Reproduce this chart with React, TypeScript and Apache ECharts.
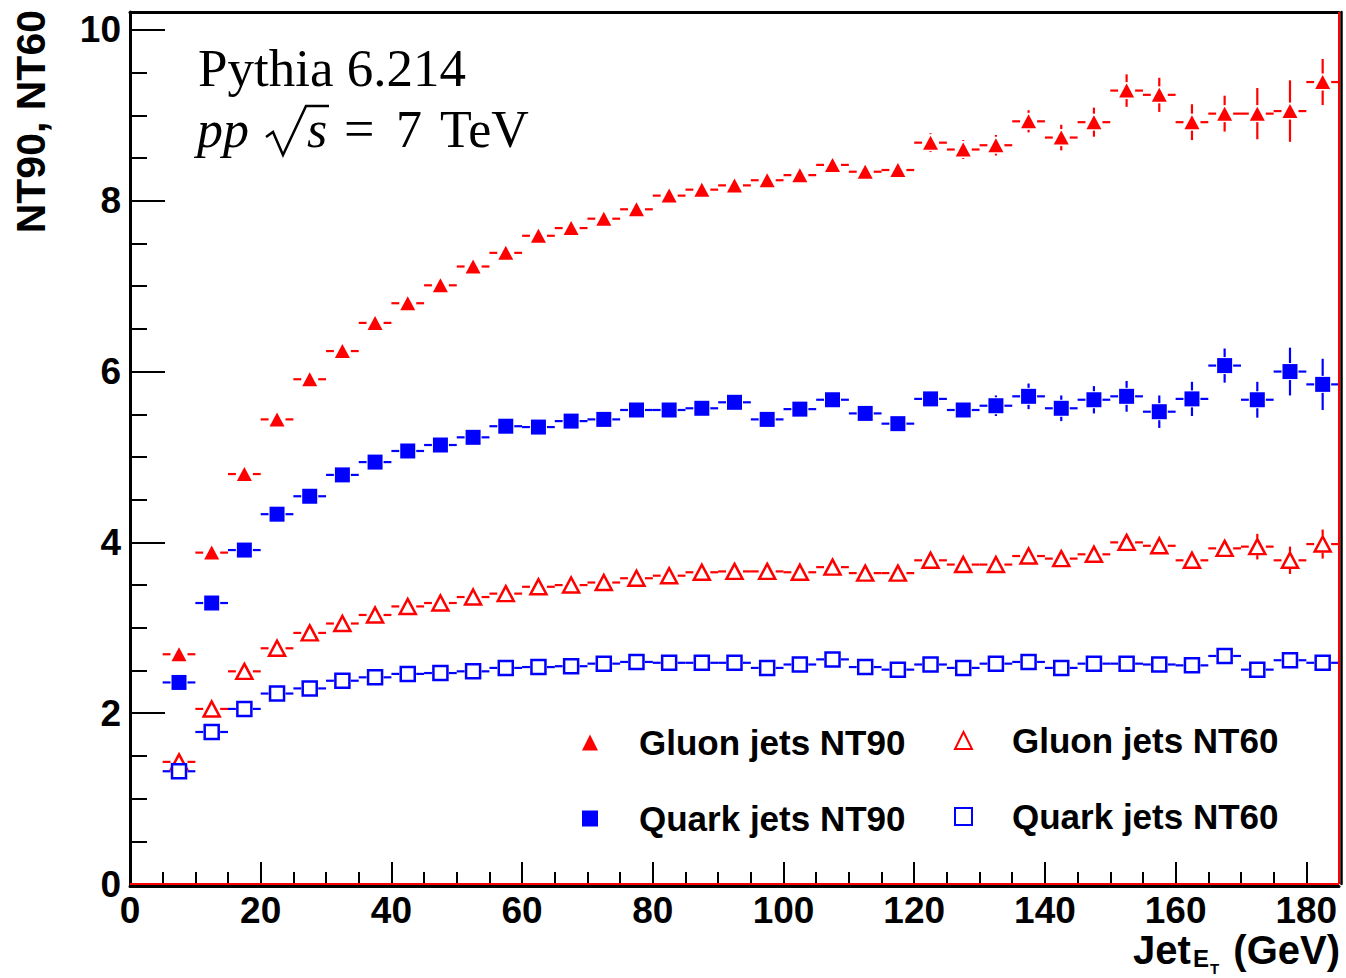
import React, { useEffect, useRef } from "react";
import * as echarts from "echarts";

// ---- data ----
const binCenters = [7.5, 12.5, 17.5, 22.5, 27.5, 32.5, 37.5, 42.5, 47.5, 52.5, 57.5, 62.5, 67.5, 72.5, 77.5, 82.5, 87.5, 92.5, 97.5, 102.5, 107.5, 112.5, 117.5, 122.5, 127.5, 132.5, 137.5, 142.5, 147.5, 152.5, 157.5, 162.5, 167.5, 172.5, 177.5, 182.5];
const binHalfWidth = 2.5;

const gluonNT90 = [2.69, 3.88, 4.80, 5.44, 5.91, 6.24, 6.57, 6.80, 7.01, 7.23, 7.39, 7.59, 7.68, 7.79, 7.90, 8.06, 8.13, 8.18, 8.24, 8.30, 8.42, 8.34, 8.36, 8.68, 8.60, 8.65, 8.93, 8.74, 8.92, 9.29, 9.24, 8.92, 9.02, 9.02, 9.05, 9.39];
const gluonNT90Err = [0.03, 0.03, 0.03, 0.03, 0.03, 0.04, 0.04, 0.04, 0.04, 0.04, 0.05, 0.05, 0.05, 0.05, 0.06, 0.06, 0.06, 0.06, 0.07, 0.07, 0.07, 0.08, 0.08, 0.11, 0.11, 0.12, 0.13, 0.15, 0.17, 0.19, 0.20, 0.21, 0.21, 0.30, 0.36, 0.27];

const quarkNT90 = [2.36, 3.29, 3.91, 4.33, 4.54, 4.79, 4.94, 5.07, 5.14, 5.23, 5.36, 5.35, 5.42, 5.44, 5.55, 5.55, 5.57, 5.64, 5.44, 5.56, 5.67, 5.51, 5.39, 5.68, 5.55, 5.60, 5.71, 5.57, 5.67, 5.71, 5.53, 5.68, 6.07, 5.67, 6.00, 5.85];
const quarkNT90Err = [0.02, 0.02, 0.02, 0.03, 0.03, 0.03, 0.03, 0.04, 0.04, 0.04, 0.04, 0.05, 0.05, 0.05, 0.05, 0.06, 0.06, 0.06, 0.06, 0.07, 0.07, 0.07, 0.08, 0.09, 0.10, 0.12, 0.15, 0.15, 0.16, 0.18, 0.19, 0.20, 0.20, 0.21, 0.28, 0.30];

const gluonNT60 = [1.43, 2.05, 2.49, 2.76, 2.94, 3.05, 3.15, 3.25, 3.29, 3.36, 3.40, 3.48, 3.50, 3.53, 3.58, 3.61, 3.65, 3.66, 3.66, 3.65, 3.71, 3.64, 3.64, 3.79, 3.74, 3.74, 3.84, 3.81, 3.86, 4.00, 3.96, 3.79, 3.93, 3.95, 3.79, 3.98];
const gluonNT60Err = [0.02, 0.02, 0.02, 0.02, 0.02, 0.02, 0.02, 0.02, 0.02, 0.03, 0.03, 0.03, 0.03, 0.03, 0.03, 0.03, 0.04, 0.04, 0.04, 0.04, 0.04, 0.05, 0.05, 0.05, 0.05, 0.06, 0.06, 0.06, 0.07, 0.08, 0.09, 0.09, 0.10, 0.15, 0.16, 0.17];

const quarkNT60 = [1.32, 1.78, 2.05, 2.23, 2.29, 2.38, 2.42, 2.46, 2.47, 2.49, 2.53, 2.54, 2.55, 2.58, 2.60, 2.59, 2.59, 2.59, 2.53, 2.57, 2.63, 2.54, 2.51, 2.57, 2.53, 2.58, 2.60, 2.53, 2.58, 2.58, 2.57, 2.56, 2.67, 2.51, 2.62, 2.59];
const quarkNT60Err = [0.01, 0.01, 0.01, 0.01, 0.01, 0.01, 0.01, 0.01, 0.01, 0.02, 0.02, 0.02, 0.02, 0.02, 0.02, 0.02, 0.02, 0.02, 0.03, 0.03, 0.03, 0.03, 0.03, 0.03, 0.03, 0.04, 0.04, 0.04, 0.04, 0.05, 0.05, 0.05, 0.06, 0.08, 0.09, 0.10];

const xMajorTicks = [0, 20, 40, 60, 80, 100, 120, 140, 160, 180];
const xMinorTicks = [5, 10, 15, 25, 30, 35, 45, 50, 55, 65, 70, 75, 85, 90, 95, 105, 110, 115, 125, 130, 135, 145, 150, 155, 165, 170, 175];
const yMajorTicks = [0, 2, 4, 6, 8, 10];
const yMinorTicks = [0.5, 1, 1.5, 2.5, 3, 3.5, 4.5, 5, 5.5, 6.5, 7, 7.5, 8.5, 9, 9.5];
const xMin = 0, xMax = 185, yMin = 0, yMax = 10.21;

const RED = "#ff0000";
const BLUE = "#0000ff";
const SANS = '"Liberation Sans", Arial, Helvetica, sans-serif';
const SERIF = '"Liberation Serif", "Times New Roman", serif';

function makeErr(name: string, ys: number[], errs: number[], color: string) {
  return {
    type: "custom",
    name: name,
    silent: true,
    z: 3,
    data: binCenters.map((x, i) => [x, ys[i], errs[i]]),
    renderItem: (params: any, api: any) => {
      const x = api.value(0), y = api.value(1), e = api.value(2);
      const c = api.coord([x, y]);
      const l = api.coord([x - binHalfWidth, y]);
      const r = api.coord([x + binHalfWidth, y]);
      const t = api.coord([x, y + e]);
      const b = api.coord([x, y - e]);
      const g = 8.5;
      const style = { stroke: color, lineWidth: 2.2 };
      const ch: any[] = [];
      if (c[0] - g > l[0]) ch.push({ type: "line", shape: { x1: l[0], y1: c[1], x2: c[0] - g, y2: c[1] }, style });
      if (r[0] > c[0] + g) ch.push({ type: "line", shape: { x1: c[0] + g, y1: c[1], x2: r[0], y2: c[1] }, style });
      if (c[1] - g > t[1]) ch.push({ type: "line", shape: { x1: c[0], y1: t[1], x2: c[0], y2: c[1] - g }, style });
      if (b[1] > c[1] + g) ch.push({ type: "line", shape: { x1: c[0], y1: c[1] + g, x2: c[0], y2: b[1] }, style });
      return { type: "group", children: ch };
    },
  };
}

function makeScatter(name: string, ys: number[], symbol: string, size: number | number[], itemStyle: any, extra: any = {}) {
  return {
    type: "scatter",
    name: name,
    symbol: symbol,
    symbolSize: size,
    itemStyle: { opacity: 1, ...itemStyle },
    emphasis: { disabled: true },
    z: 4,
    data: binCenters.map((x, i) => [x, ys[i]]),
    ...extra,
  };
}

export default function App() {
  const ref = useRef<HTMLDivElement>(null);
  useEffect(() => {
    if (!ref.current) return;
    const chart = echarts.init(ref.current, null, { renderer: "svg" });
    const axisLabelStyle = { fontSize: 37, fontWeight: "bold", color: "#000", fontFamily: SANS };
    const legendText = { fontSize: 35, fontWeight: "bold", color: "#000", fontFamily: SANS };
    const option: any = {
      animation: false,
      backgroundColor: "#fff",
      grid: { left: 130, right: 7, top: 12, bottom: 94, containLabel: false },
      xAxis: [
        {
          type: "value", min: xMin, max: xMax, position: "bottom", offset: 2,
          axisLine: { show: true, onZero: false, lineStyle: { color: "#000", width: 3 } },
          axisTick: { show: true, inside: true, length: 24, customValues: xMajorTicks, lineStyle: { color: "#000", width: 2 } },
          axisLabel: { show: true, customValues: xMajorTicks, margin: 9, lineHeight: 30, ...axisLabelStyle },
          splitLine: { show: false },
        },
        {
          type: "value", min: xMin, max: xMax, position: "bottom", offset: 2,
          axisLine: { show: false },
          axisTick: { show: true, inside: true, length: 12, customValues: xMinorTicks, lineStyle: { color: "#000", width: 2 } },
          axisLabel: { show: false },
          splitLine: { show: false },
        },
        {
          type: "value", min: xMin, max: xMax, position: "top",
          axisLine: { show: true, onZero: false, lineStyle: { color: "#000", width: 3 } },
          axisTick: { show: false }, axisLabel: { show: false }, splitLine: { show: false },
        },
      ],
      yAxis: [
        {
          type: "value", min: yMin, max: yMax, position: "left",
          axisLine: { show: true, onZero: false, lineStyle: { color: "#000", width: 3 } },
          axisTick: { show: true, inside: true, length: 35, customValues: yMajorTicks, lineStyle: { color: "#000", width: 2 } },
          axisLabel: { show: true, customValues: yMajorTicks, margin: 9, ...axisLabelStyle },
          splitLine: { show: false },
        },
        {
          type: "value", min: yMin, max: yMax, position: "left",
          axisLine: { show: false },
          axisTick: { show: true, inside: true, length: 17, customValues: yMinorTicks, lineStyle: { color: "#000", width: 2 } },
          axisLabel: { show: false }, splitLine: { show: false },
        },
        {
          type: "value", min: yMin, max: yMax, position: "right", offset: 2,
          axisLine: { show: true, onZero: false, lineStyle: { color: "#000", width: 2.5 } },
          axisTick: { show: false }, axisLabel: { show: false }, splitLine: { show: false },
        },
      ],
      legend: [
        {
          data: ["Gluon jets NT90", "Quark jets NT90"],
          orient: "vertical", left: 577, top: 720, itemGap: 41,
          itemWidth: 16, itemHeight: 16,
          textStyle: { ...legendText, padding: [0, 0, 0, 36] },
          selectedMode: false,
        },
        {
          data: ["Gluon jets NT60", "Quark jets NT60"],
          orient: "vertical", left: 949, top: 718, itemGap: 41,
          itemWidth: 17, itemHeight: 17,
          textStyle: { ...legendText, padding: [0, 0, 0, 35] },
          selectedMode: false,
        },
      ],
      series: [
        makeErr("Gluon jets NT90 err", gluonNT90, gluonNT90Err, RED),
        makeErr("Quark jets NT90 err", quarkNT90, quarkNT90Err, BLUE),
        makeErr("Gluon jets NT60 err", gluonNT60, gluonNT60Err, RED),
        makeErr("Quark jets NT60 err", quarkNT60, quarkNT60Err, BLUE),
        makeScatter("Gluon jets NT90", gluonNT90, "triangle", [15, 14], { color: RED }, {
          markLine: {
            silent: true, symbol: "none", label: { show: false },
            lineStyle: { color: RED, width: 2, type: "solid" },
            data: [{ xAxis: xMax }, { yAxis: 0 }],
          },
        }),
        makeScatter("Quark jets NT90", quarkNT90, "rect", [15, 15], { color: BLUE }),
        makeScatter("Gluon jets NT60", gluonNT60, "triangle", [16, 15], { color: "#fff", borderColor: RED, borderWidth: 2.5 }),
        makeScatter("Quark jets NT60", quarkNT60, "rect", [14, 14], { color: "#fff", borderColor: BLUE, borderWidth: 2.5 }),
      ],
      graphic: [
        { type: "text", x: 198, y: 68, style: { text: "Pythia 6.214", fontSize: 53, fontFamily: SERIF, fill: "#000", align: "left", verticalAlign: "middle" } },
        { type: "text", x: 197, y: 129, style: { text: "pp", fontSize: 52, fontStyle: "italic", fontFamily: SERIF, fill: "#000", align: "left", verticalAlign: "middle" } },
        { type: "polyline", shape: { points: [[266, 137], [273, 132], [283, 155], [306, 106], [329, 106]] }, style: { stroke: "#000", lineWidth: 2.5, fill: null } },
        { type: "text", x: 307, y: 129, style: { text: "s", fontSize: 52, fontStyle: "italic", fontFamily: SERIF, fill: "#000", align: "left", verticalAlign: "middle" } },
        { type: "text", x: 344, y: 129, style: { text: "=", fontSize: 54, fontFamily: SERIF, fill: "#000", align: "left", verticalAlign: "middle" } },
        { type: "text", x: 396, y: 129, style: { text: "7", fontSize: 52, fontFamily: SERIF, fill: "#000", align: "left", verticalAlign: "middle" } },
        { type: "text", x: 440, y: 129, style: { text: "TeV", fontSize: 52, fontFamily: SERIF, fill: "#000", align: "left", verticalAlign: "middle" } },
        { type: "text", x: 31, y: 10, rotation: Math.PI / 2, style: { text: "NT90, NT60", fontSize: 41, fontWeight: "bold", fontFamily: SANS, fill: "#000", align: "right", verticalAlign: "middle" } },
        { type: "text", x: 1133, y: 950, style: { text: "Jet", fontSize: 40, lineHeight: 28, fontWeight: "bold", fontFamily: SANS, fill: "#000", align: "left", verticalAlign: "middle" } },
        { type: "text", x: 1193, y: 958, style: { text: "E", fontSize: 24, lineHeight: 18, fontWeight: "bold", fontFamily: SANS, fill: "#000", align: "left", verticalAlign: "middle" } },
        { type: "text", x: 1210, y: 968, style: { text: "T", fontSize: 15, lineHeight: 12, fontWeight: "bold", fontFamily: SANS, fill: "#000", align: "left", verticalAlign: "middle" } },
        { type: "text", x: 1340, y: 950, style: { text: "(GeV)", fontSize: 40, lineHeight: 28, fontWeight: "bold", fontFamily: SANS, fill: "#000", align: "right", verticalAlign: "middle" } },
      ],
    };
    chart.setOption(option);
    return () => chart.dispose();
  }, []);
  return <div ref={ref} style={{ position: "fixed", left: 0, top: 0, width: 1346, height: 978 }} />;
}
